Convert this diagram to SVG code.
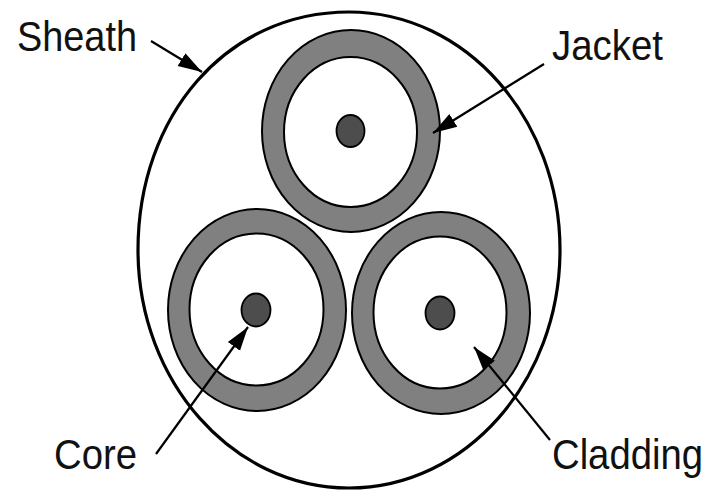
<svg xmlns="http://www.w3.org/2000/svg" width="723" height="495" viewBox="0 0 723 495">
<style>
.o{fill:#fff;stroke:#000;stroke-width:3.2}
.j{fill:#808080;stroke:#000;stroke-width:2}
.i{fill:#fff;stroke:#000;stroke-width:2}
.c{fill:#4d4d4d;stroke:#000;stroke-width:1.8}
.t{font-family:"Liberation Sans",Arial,sans-serif;font-size:43px;fill:#111}
.a{stroke:#000;stroke-width:2.2;fill:none;marker-end:url(#h)}
</style>
<defs><marker id="h" markerUnits="userSpaceOnUse" markerWidth="28" markerHeight="20" refX="24" refY="9" orient="auto"><path d="M0 1.5L24 9L0 16.5z" fill="#000"/></marker></defs>
<rect width="723" height="495" fill="#fff"/>
<g id="sheath"><path class="o" d="M138 250C138 116 226 12 349 12C466 12 560 119 560 250C560 381 466 488 349 488C232 488 138 381 138 250Z"/><text class="t" x="17" y="51" textLength="120" lengthAdjust="spacingAndGlyphs">Sheath</text></g>
<g id="jacket-top"><ellipse class="j" cx="351" cy="131" rx="89" ry="101"/><ellipse class="i" cx="350.5" cy="132" rx="66.5" ry="75"/><ellipse class="c" cx="350.5" cy="131" rx="14" ry="16"/></g>
<g id="jacket-left"><ellipse class="j" cx="257" cy="310" rx="89" ry="101"/><ellipse class="i" cx="256.5" cy="309.5" rx="67" ry="76"/><ellipse class="c" cx="256" cy="310" rx="14.500" ry="16.500"/></g>
<g id="jacket-right"><ellipse class="j" cx="441" cy="313" rx="89" ry="101"/><ellipse class="i" cx="440" cy="312.500" rx="66.500" ry="76"/><ellipse class="c" cx="440" cy="313" rx="14.500" ry="16.500"/></g>
<g id="label-jacket"><text class="t" x="552" y="60" textLength="111" lengthAdjust="spacingAndGlyphs">Jacket</text></g>
<g id="label-core"><text class="t" x="54" y="469" textLength="83" lengthAdjust="spacingAndGlyphs">Core</text></g>
<g id="label-cladding"><text class="t" x="552" y="469" textLength="151" lengthAdjust="spacingAndGlyphs">Cladding</text></g>
<g id="connectors">
<line class="a" x1="151" y1="41" x2="202" y2="72"/>
<line class="a" x1="544" y1="64" x2="433" y2="133"/>
<line class="a" x1="156" y1="454" x2="248" y2="327"/>
<line class="a" x1="550" y1="440" x2="474" y2="347"/>
</g>
</svg>
